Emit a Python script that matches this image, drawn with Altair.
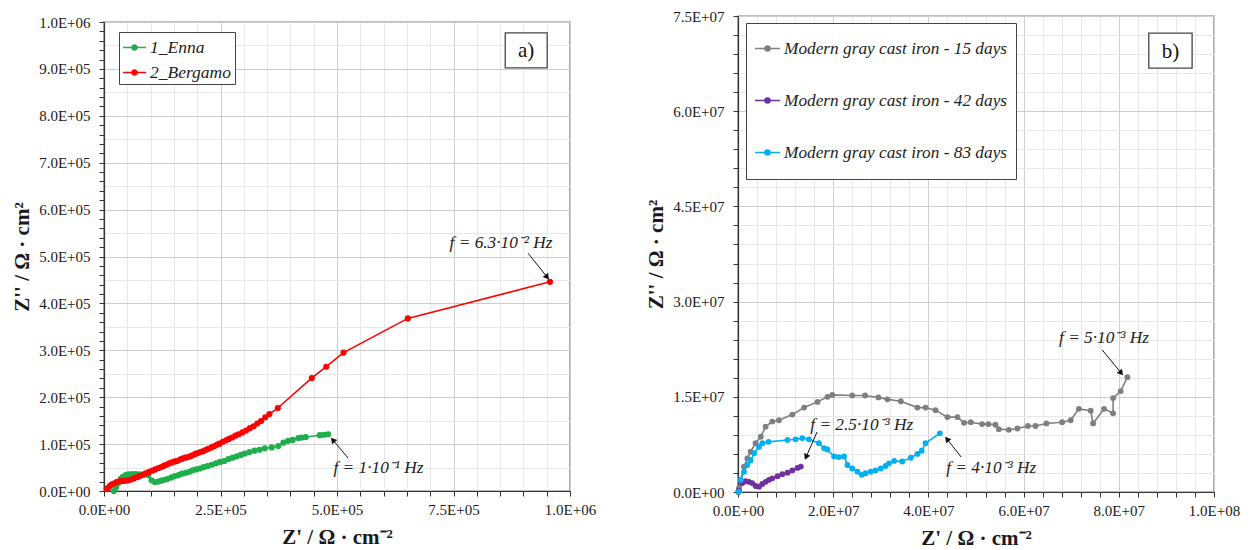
import math
import altair as alt
import pandas as pd

# ---------------- Panel a) data (units of 1e3 Ohm*cm2) ----------------
enna_x = [21, 26, 31, 36, 41, 47, 52, 60, 68, 76, 85, 95, 102, 109, 116, 123, 130, 137, 145, 152,
          160, 167, 175, 183, 190, 198, 206, 214, 222, 231, 240, 249, 258, 267, 276, 285, 294, 302,
          312, 323, 334, 345, 360, 374, 385, 395, 405, 417, 424, 433, 463, 472, 481]
enna_y = [0, 8, 17, 26, 31, 34, 35.5, 36, 36, 35.5, 35.5, 34, 23, 19, 20, 22, 24, 26, 29, 32,
          34, 37, 39, 41, 44, 46, 48, 51, 53, 56, 59, 62, 64, 68, 71, 74, 77, 80,
          83, 86, 88, 91, 93, 96, 103, 107, 109, 113, 114, 115, 119, 120, 121]

bergamo_x = [6, 9, 13, 17, 21, 27, 34, 40, 47, 53, 59, 65, 72, 78, 85, 91, 97, 104, 110, 117,
             123, 129, 134, 140, 146, 152, 157, 163, 168, 174, 179, 185, 190, 196, 201, 207, 213,
             219, 224, 231, 237, 243, 248, 255, 262, 268, 275, 282, 289, 297, 305, 313, 321, 329,
             337, 346, 355, 373, 446, 477, 514, 652, 957]
bergamo_y = [4, 7, 11, 14, 16, 19, 21, 21.5, 22, 23, 25, 27, 30, 32.5, 35, 38, 41, 43.5, 46, 49,
             51, 54, 56, 59, 61, 63, 64, 67, 69, 71, 72, 74, 76, 79, 81, 83, 85,
             88, 90, 93, 96, 99, 101, 105, 108, 111, 114, 118, 121, 125, 129, 134, 138, 144,
             149, 157, 164, 177, 241, 265, 295, 368, 446]

series_a = ["1_Enna", "2_Bergamo"]
colors_a = ["#1fae4c", "#ff0000"]

# ---------------- Panel b) data (units of 1e6 Ohm*cm2) ----------------
d15_x = [0, 0.2, 1.26, 1.96, 2.66, 3.7, 4.8, 5.8, 7.2, 8.6, 11.4, 13.9, 16.7, 18.8, 19.8, 24.0,
         26.7, 29.5, 31.4, 34.2, 37.7, 39.4, 41.5, 44.0, 46.1, 47.5, 48.9, 51.3, 52.6, 54.1,
         54.8, 56.9, 58.7, 60.9, 62.5, 64.8, 68.1, 69.9, 71.6, 74.1, 74.6, 76.9, 78.8, 78.8,
         80.4, 81.8]
d15_y = [0, 0.6, 4.0, 5.3, 6.35, 7.7, 8.7, 10.3, 11.1, 11.3, 12.2, 13.3, 14.2, 15.0, 15.3, 15.2,
         15.2, 14.9, 14.6, 14.3, 13.3, 13.3, 12.9, 11.8, 11.8, 10.9, 11.0, 10.7, 10.7, 10.6,
         9.9, 9.8, 10.0, 10.4, 10.4, 10.8, 11.0, 11.3, 13.1, 12.8, 10.8, 13.1, 12.4, 14.8,
         15.9, 18.1]

d42_x = [0.2, 0.9, 1.6, 2.3, 3.0, 3.7, 4.4, 5.1, 5.8, 6.5, 7.2, 8.3, 9.3, 10.4, 11.4, 12.5, 13.2]
d42_y = [0.2, 1.4, 1.7, 1.6, 1.4, 0.95, 0.84, 1.26, 1.6, 1.9, 2.15, 2.5, 2.8, 3.05, 3.4, 3.8, 4.0]

d83_x = [0.2, 0.57, 1.26, 1.96, 2.66, 3.4, 4.4, 5.1, 6.4, 10.4, 12.1, 13.5, 14.9, 17.0, 18.1, 18.8,
         20.2, 21.2, 22.3, 23.0, 24.0, 25.1, 26.0, 26.8, 27.9, 28.9, 30.0, 31.0, 31.7, 32.8, 34.5,
         36.3, 37.7, 38.6, 39.4, 42.4]
d83_y = [0.05, 1.9, 3.2, 4.25, 5.0, 6.1, 7.1, 7.7, 7.9, 8.2, 8.3, 8.5, 8.3, 7.7, 6.9, 6.7,
         5.6, 5.5, 5.6, 4.25, 3.7, 3.2, 2.7, 2.95, 3.2, 3.4, 3.7, 4.1, 4.5, 4.9, 4.8,
         5.4, 6.0, 6.5, 7.7, 9.25]

series_b = ["Modern gray cast iron - 15 days", "Modern gray cast iron - 42 days",
            "Modern gray cast iron - 83 days"]
colors_b = ["#7f7f7f", "#7030a0", "#00b0f0"]

# ---------------- Annotations ----------------
ann_a_text = ["f = 6.3·10⁻² Hz", "f = 1·10⁻¹ Hz"]
ann_a_tx = [852, 589]          # text centre (1e3)
ann_a_ty = [529, 49]
ann_a_x1 = [910, 524]          # arrow start
ann_a_y1 = [507, 70]
ann_a_x2 = [951, 491]          # arrow end
ann_a_y2 = [456, 109]

ann_b_text = ["f = 5·10⁻³ Hz", "f = 2.5·10⁻³ Hz", "f = 4·10⁻³ Hz"]
ann_b_tx = [76.9, 26.0, 53.2]  # (1e6)
ann_b_ty = [24.3, 10.6, 3.8]
ann_b_x1 = [76.5, 16.6, 46.9]
ann_b_y1 = [22.4, 9.45, 5.5]
ann_b_x2 = [80.5, 14.3, 43.9]
ann_b_y2 = [18.75, 5.5, 8.35]

panel_label_a = "a)"
panel_label_b = "b)"
box_a = [861, 951, 902, 977]      # x0, x1, y0, y1 (1e3)
box_b = [86.3, 95.4, 66.8, 72.3]  # (1e6)

# ---------------- Layout constants ----------------
WA, HA = 466, 469
WB, HB = 476, 476
FONT = "Liberation Serif"
MAJOR_GRID = "#cdcdcd"
MINOR_GRID = "#e8e8e8"


def series_df(names, xs_list, ys_list, unit):
    rows = []
    for name, xs, ys in zip(names, xs_list, ys_list):
        for i, (x, y) in enumerate(zip(xs, ys)):
            rows.append({"series": name, "x": x * unit, "y": y * unit, "i": i})
    return pd.DataFrame(rows)


def ann_df(texts, tx, ty, x1, y1, x2, y2, unit, sx, sy):
    rows = []
    for t, a, b, c, d, e, f in zip(texts, tx, ty, x1, y1, x2, y2):
        dx = (e - c) * sx
        dy = -(f - d) * sy
        ang = math.degrees(math.atan2(dx, -dy)) % 360
        rows.append({"t": t, "tx": a * unit, "ty": b * unit, "x": c * unit, "y": d * unit,
                     "x2": e * unit, "y2": f * unit, "ang": ang})
    return pd.DataFrame(rows)


def make_axis(values, major, grid_every, tick_every, title, tpad, lpad):
    return alt.Axis(
        values=values,
        tickCount=len(values) + 2,
        title=title,
        titlePadding=tpad,
        labelExpr=f"datum.value % {major} === 0 ? replace(format(datum.value, '.1e'), 'e+', 'E+0') : ''",
        labelOverlap=False,
        labelFlush=False,
        gridColor={"condition": {"test": f"datum.value % {major} === 0", "value": MAJOR_GRID},
                   "value": MINOR_GRID},
        gridOpacity={"condition": {"test": f"datum.value % {grid_every} === 0", "value": 1},
                     "value": 0},
        tickOpacity={"condition": {"test": f"datum.value % {tick_every} === 0", "value": 1},
                     "value": 0},
        gridWidth=1,
        tickSize=5,
        labelPadding=lpad,
    )


LEG_PATH_A = "M-1,0H1M-0.22,0a0.22,0.22 0 1,0 0.44,0a0.22,0.22 0 1,0 -0.44,0Z"
LEG_PATH_B = "M0,-1.2M0,1.2M-1,0H1M-0.2,0a0.2,0.2 0 1,0 0.4,0a0.2,0.2 0 1,0 -0.4,0Z"


def panel(df, names, cols, xmax, ymax, xvals, yvals, xmaj, ymaj, xgrid, ygrid, xtick, ytick,
          w, h, ann, box, label, leg, psize):
    X = alt.X("x:Q", scale=alt.Scale(domain=[0, xmax], nice=False, zero=True),
              axis=make_axis(xvals, xmaj, xgrid, xtick, "Z' / Ω · cm⁻²", 9, 6))
    Y = alt.Y("y:Q", scale=alt.Scale(domain=[0, ymax], nice=False, zero=True),
              axis=make_axis(yvals, ymaj, ygrid, ytick, "Z'' / Ω · cm²", 6, 9))
    legend_kw = dict(orient="none", legendX=leg["x"], legendY=leg["y"],
                     symbolType=leg["path"], symbolSize=leg["ss"], symbolStrokeWidth=1.6,
                     labelFont=FONT, labelFontStyle="italic",
                     labelFontSize=leg["fs"], labelColor="#222", labelLimit=400,
                     strokeColor="#444", fillColor="white",
                     padding=leg["pad"], rowPadding=leg["row"], labelOffset=3)
    if leg["title"] is None:
        legend_kw["title"] = None
    else:
        legend_kw.update(title=leg["title"], titleFontSize=1, titlePadding=leg["tpad"])
    C = alt.Color("series:N", sort=names, scale=alt.Scale(domain=names, range=cols),
                  legend=alt.Legend(**legend_kw))
    base = alt.Chart(df)
    lines = base.mark_line(strokeWidth=1.6).encode(x=X, y=Y, color=C, order="i:Q")
    pts = base.mark_point(filled=True, size=psize, opacity=1).encode(x=X, y=Y, color=C)

    arrows = alt.Chart(ann).mark_rule(color="#111", strokeWidth=1).encode(
        x=X, y=Y, x2="x2:Q", y2="y2:Q")
    heads = alt.Chart(ann).mark_point(shape="triangle-up", filled=True, color="#111",
                                      size=45, opacity=1).encode(
        x=alt.X("x2:Q"), y=alt.Y("y2:Q"), angle=alt.Angle("ang:Q", scale=None))
    texts = alt.Chart(ann).mark_text(font=FONT, fontStyle="italic", fontSize=17.3,
                                     color="#222").encode(
        x=alt.X("tx:Q"), y=alt.Y("ty:Q"), text="t:N")

    bdf = pd.DataFrame([{"x": box[0], "x2": box[1], "y": box[2], "y2": box[3], "t": label,
                         "cx": (box[0] + box[1]) / 2, "cy": (box[2] + box[3]) / 2}])
    brect = alt.Chart(bdf).mark_rect(fill="white", stroke="#444", strokeWidth=1.3).encode(
        x=X, x2="x2:Q", y=Y, y2="y2:Q")
    btext = alt.Chart(bdf).mark_text(font=FONT, fontSize=21, color="#111", dy=1).encode(
        x=alt.X("cx:Q"), y=alt.Y("cy:Q"), text="t:N")

    return alt.layer(lines, pts, arrows, heads, texts, brect, btext).properties(
        width=w, height=h)


dfa = series_df(series_a, [enna_x, bergamo_x], [enna_y, bergamo_y], 1000)
dfb = series_df(series_b, [d15_x, d42_x, d83_x], [d15_y, d42_y, d83_y], 1_000_000)

anna = ann_df(ann_a_text, ann_a_tx, ann_a_ty, ann_a_x1, ann_a_y1, ann_a_x2, ann_a_y2, 1000,
              WA / 1e6, HA / 1e6)
annb = ann_df(ann_b_text, ann_b_tx, ann_b_ty, ann_b_x1, ann_b_y1, ann_b_x2, ann_b_y2, 1_000_000,
              WB / 1e8, HB / 7.5e7)

xa_vals = [i * 50000 for i in range(21)]
ya_vals = sorted(set([i * 20000 for i in range(51)] + [i * 50000 for i in range(21)]))
xb_vals = [i * 4000000 for i in range(26)]
yb_vals = [i * 3000000 for i in range(26)]

box_a_units = [v * 1000 for v in box_a]
box_b_units = [v * 1_000_000 for v in box_b]

leg_a = {"x": 15, "y": 10, "title": None, "tpad": 0, "ss": 530, "fs": 17.5, "pad": 3, "row": 4,
         "path": LEG_PATH_A}
leg_b = {"x": 8, "y": 7, "title": " ", "tpad": 3, "ss": 625, "fs": 17.3, "pad": 8, "row": 15,
         "path": LEG_PATH_B}

chart_a = panel(dfa, series_a, colors_a, 1_000_000, 1_000_000, xa_vals, ya_vals,
                250000, 100000, 50000, 50000, 50000, 20000, WA, HA, anna, box_a_units,
                panel_label_a, leg_a, 38)
chart_b = panel(dfb, series_b, colors_b, 100_000_000, 75_000_000, xb_vals, yb_vals,
                20000000, 15000000, 4000000, 3000000, 4000000, 3000000, WB, HB, annb,
                box_b_units, panel_label_b, leg_b, 34)

# invisible spacer that lowers panel a) by a few pixels relative to panel b)
spacer = alt.Chart(pd.DataFrame({"v": [0]})).mark_point(size=0, opacity=0).encode(
    x=alt.value(0), y=alt.value(0)).properties(
    width=1, height=1, view=alt.ViewBackground(strokeOpacity=0, fillOpacity=0))

left = alt.vconcat(spacer, chart_a, spacing=-3).resolve_scale(
    color="independent").resolve_legend(color="independent")

chart = alt.hconcat(left, chart_b, spacing=47).resolve_scale(
    color="independent", x="independent", y="independent").properties(
    padding={"left": 2, "top": 0, "right": 2, "bottom": 2}
).configure_view(stroke="#7a7a7a", strokeWidth=1.4).configure_axis(
    domainColor="#333", domainWidth=1.2, tickColor="#333",
    labelFont=FONT, labelFontSize=15, labelColor="#1a1a1a",
    titleFont=FONT, titleFontSize=21, titleFontWeight="bold", titleColor="#1a1a1a")

chart.save("out.html", embed_options={"renderer": "svg", "actions": False})
